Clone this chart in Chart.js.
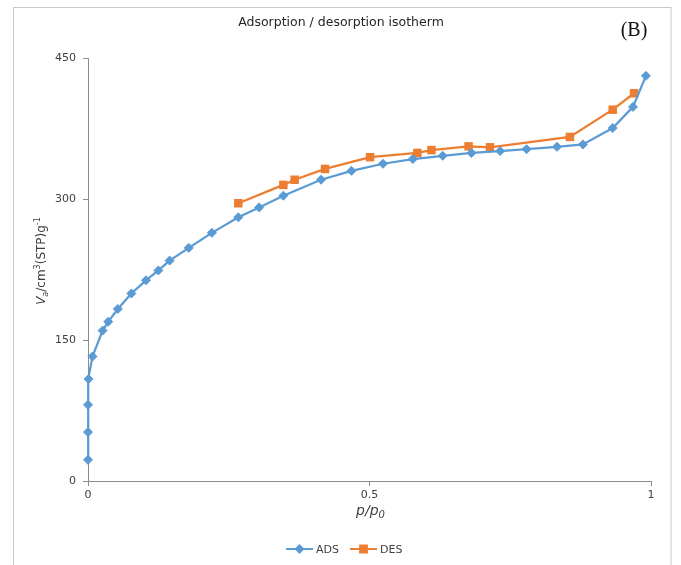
<!DOCTYPE html>
<html>
<head>
<meta charset="utf-8">
<script src="https://cdn.jsdelivr.net/npm/chart.js@4.4.1/dist/chart.umd.min.js"></script>
<style>
  html, body { margin: 0; padding: 0; background: #fff; }
  #wrap { width: 681px; height: 565px; }
</style>
</head>
<body>
<div id="wrap"><canvas id="isotherm" width="681" height="565"></canvas></div>
<script>
// adsorption branch (p/p0, volume)
const adsP = [0, 0, 0, 0.001, 0.008, 0.026, 0.036, 0.053, 0.077, 0.103, 0.125, 0.145, 0.179, 0.220, 0.267,
  0.304, 0.347, 0.414, 0.468, 0.524, 0.577, 0.630, 0.681, 0.732, 0.779, 0.833, 0.879, 0.932, 0.968, 0.991];
const adsV = [22.5, 52, 81, 108.5, 132.5, 160, 169.5, 183, 199.5, 213.5, 224, 234.5, 248, 264, 280.5,
  291, 303.5, 320.5, 330, 337.5, 342.5, 346, 349, 351, 353, 355.5, 358, 375.5, 398, 431];

// desorption branch
const desP = [0.267, 0.347, 0.367, 0.421, 0.501, 0.585, 0.610, 0.676, 0.714, 0.856, 0.932, 0.970];
const desV = [295.5, 315, 320.5, 332, 344.5, 349, 352, 356, 355, 366, 395, 412.5];

const seriesNames = ["ADS", "DES"];
const xTicks = [0, 0.5, 1];
const yTicks = [0, 150, 300, 450];

const blue = "#5B9BD5";
const orange = "#ED7D31";
const axisGray = "#8c8c8c";
const font = "'DejaVu Sans', Verdana, sans-serif";

function toPoints(xs, ys) {
  return xs.map((x, i) => ({ x: x, y: ys[i] }));
}

// frame, titles, y label with sub/superscripts, legend
const decorations = {
  id: "decorations",
  beforeDraw(chart) {
    const ctx = chart.ctx;
    ctx.save();
    ctx.fillStyle = "#fff";
    ctx.fillRect(0, 0, chart.width, chart.height);
    ctx.strokeStyle = "#c8c8c8";
    ctx.lineWidth = 1;
    ctx.strokeRect(13.5, 7.5, 657.5, 600);
    ctx.restore();
  },
  afterDraw(chart) {
    const ctx = chart.ctx;
    const area = chart.chartArea;
    ctx.save();

    ctx.fillStyle = "#262626";
    ctx.textAlign = "center";
    ctx.textBaseline = "middle";
    ctx.font = "12.5px " + font;
    ctx.fillText("Adsorption / desorption isotherm", 341, 23);

    ctx.font = "20px 'Liberation Serif', 'Times New Roman', serif";
    ctx.fillStyle = "#111";
    ctx.fillText("(B)", 634, 31);

    // x title
    ctx.fillStyle = "#404040";
    ctx.textAlign = "left";
    ctx.textBaseline = "alphabetic";
    ctx.font = "italic 14px " + font;
    const pw = ctx.measureText("p/p").width;
    ctx.font = "italic 10px " + font;
    const sw = ctx.measureText("0").width;
    let x0 = (area.left + area.right) / 2 - (pw + sw) / 2 + 1;
    ctx.font = "italic 14px " + font;
    ctx.fillText("p/p", x0, 515);
    ctx.font = "italic 10px " + font;
    ctx.fillText("0", x0 + pw, 518);

    // y title
    const parts = [
      { t: "V", f: "italic 12px " + font, dy: 0 },
      { t: "a", f: "italic 8px " + font, dy: 3 },
      { t: "/cm", f: "12px " + font, dy: 0 },
      { t: "3", f: "8px " + font, dy: -5 },
      { t: "(STP)g", f: "12px " + font, dy: 0 },
      { t: "-1", f: "8px " + font, dy: -5 }
    ];
    let total = 0;
    parts.forEach((p) => { ctx.font = p.f; p.w = ctx.measureText(p.t).width; total += p.w; });
    ctx.translate(41, 261);
    ctx.rotate(-Math.PI / 2);
    let cx = -total / 2;
    parts.forEach((p) => {
      ctx.font = p.f;
      ctx.fillText(p.t, cx, 4 + p.dy);
      cx += p.w;
    });
    ctx.setTransform(1, 0, 0, 1, 0, 0);

    // legend
    const items = [
      { x: 286, ds: chart.data.datasets[0] },
      { x: 350, ds: chart.data.datasets[1] }
    ];
    const ly = 549;
    ctx.font = "11px " + font;
    ctx.textBaseline = "middle";
    items.forEach((it) => {
      ctx.strokeStyle = it.ds.borderColor;
      ctx.lineWidth = 2;
      ctx.beginPath();
      ctx.moveTo(it.x, ly);
      ctx.lineTo(it.x + 27, ly);
      ctx.stroke();
      ctx.fillStyle = it.ds.pointBackgroundColor;
      ctx.strokeStyle = it.ds.pointBorderColor;
      Chart.helpers.drawPoint(ctx, {
        pointStyle: it.ds.pointStyle,
        radius: it.ds.pointRadius * 0.8,
        rotation: 0,
        borderWidth: 1
      }, it.x + 13.5, ly);
      ctx.fillStyle = "#404040";
      ctx.fillText(it.ds.label, it.x + 30, ly + 1);
    });
    ctx.restore();
  }
};

new Chart(document.getElementById("isotherm").getContext("2d"), {
  type: "scatter",
  data: {
    datasets: [
      {
        label: seriesNames[0],
        data: toPoints(adsP, adsV),
        showLine: true,
        clip: false,
        borderColor: blue,
        backgroundColor: blue,
        borderWidth: 2.25,
        pointStyle: "rectRot",
        pointRadius: 4.5,
        pointBackgroundColor: blue,
        pointBorderColor: blue,
        pointBorderWidth: 1
      },
      {
        label: seriesNames[1],
        data: toPoints(desP, desV),
        showLine: true,
        clip: false,
        borderColor: orange,
        backgroundColor: orange,
        borderWidth: 2.25,
        pointStyle: "rect",
        pointRadius: 6,
        pointBackgroundColor: orange,
        pointBorderColor: orange,
        pointBorderWidth: 0
      }
    ]
  },
  options: {
    responsive: false,
    animation: false,
    events: [],
    layout: { padding: { left: 20, top: 58, right: 30, bottom: 54 } },
    plugins: {
      legend: { display: false },
      title: { display: false },
      tooltip: { enabled: false }
    },
    scales: {
      x: {
        type: "linear",
        min: 0,
        max: 1,
        afterBuildTicks: (scale) => { scale.ticks = xTicks.map((v) => ({ value: v })); },
        afterFit: (scale) => { scale.height = 30; },
        grid: { display: true, drawOnChartArea: false, drawTicks: true, tickLength: 5, color: axisGray },
        border: { color: axisGray, width: 1 },
        ticks: {
          padding: 3,
          color: "#404040",
          font: { family: font, size: 11 },
          maxRotation: 0,
          callback: (v) => String(v)
        }
      },
      y: {
        type: "linear",
        min: 0,
        max: 450,
        afterBuildTicks: (scale) => { scale.ticks = yTicks.map((v) => ({ value: v })); },
        afterFit: (scale) => { scale.width = 68; },
        grid: { display: true, drawOnChartArea: false, drawTicks: true, tickLength: 5, color: axisGray },
        border: { color: axisGray, width: 1 },
        ticks: { padding: 7, color: "#404040", font: { family: font, size: 11 }, callback: (v) => String(v) }
      }
    }
  },
  plugins: [decorations]
});
</script>
</body>
</html>
